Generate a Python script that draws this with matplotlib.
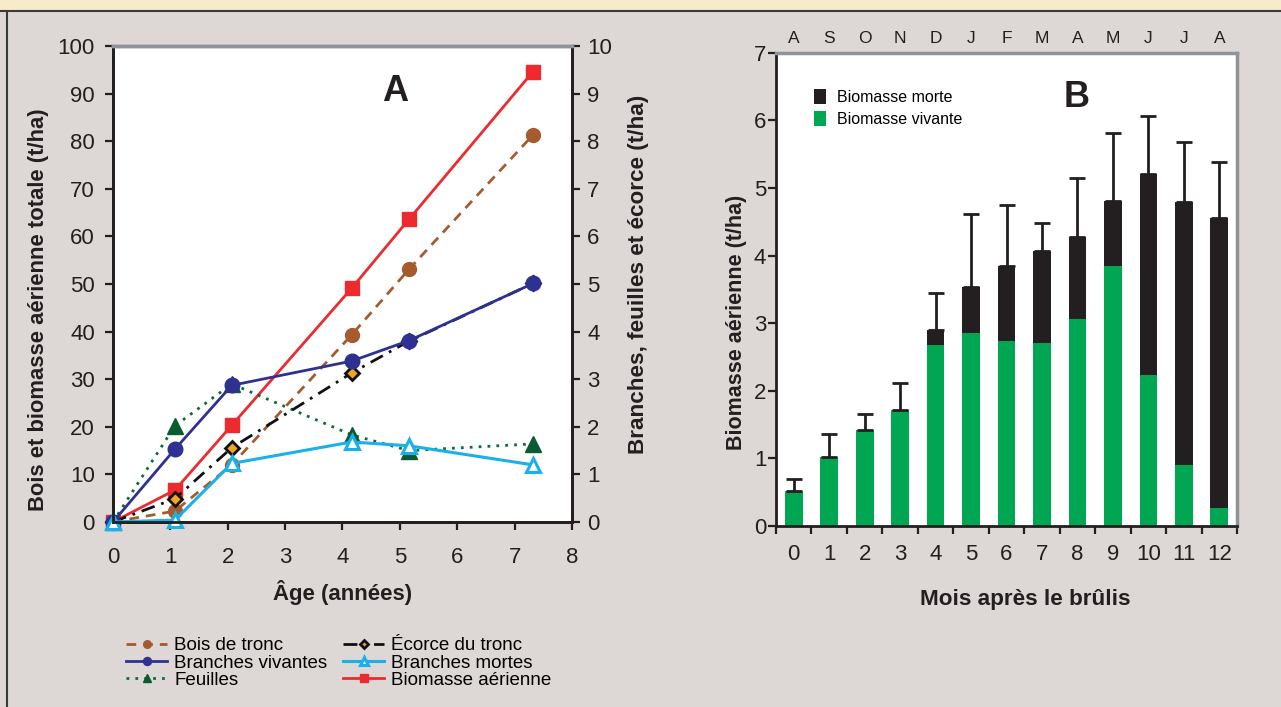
import numpy as np
import matplotlib
matplotlib.use('Agg')
import matplotlib.pyplot as plt
from matplotlib.lines import Line2D
from matplotlib.patches import Rectangle

plt.rcParams['font.family'] = ['Liberation Sans', 'DejaVu Sans']

# ==================== DATA ====================
# panel A : age (years)
age = [0, 1.08, 2.07, 4.16, 5.16, 7.32]
# left axis (t/ha)
bois_tronc = [0, 2.3, 12.0, 39.3, 53.1, 81.3]
biomasse_aer = [0, 6.7, 20.3, 49.1, 63.6, 94.6]
# right axis (t/ha)
branches_viv = [0, 1.53, 2.87, 3.38, 3.81, 5.01]
ecorce = [0, 0.49, 1.56, 3.13, 3.80, 5.01]
feuilles = [0, 2.02, 2.90, 1.83, 1.50, 1.64]
branches_mortes = [0, 0.04, 1.23, 1.68, 1.60, 1.20]

# panel B : months after burning
mois = np.arange(13)
mois_lettres = ['A', 'S', 'O', 'N', 'D', 'J', 'F', 'M', 'A', 'M', 'J', 'J', 'A']
vivante = [0.52, 1.02, 1.42, 1.71, 2.68, 2.85, 2.73, 2.71, 3.06, 3.85, 2.23, 0.90, 0.26]
total = [0.52, 1.02, 1.42, 1.71, 2.90, 3.54, 3.84, 4.07, 4.28, 4.81, 5.21, 4.79, 4.55]
err_haut = [0.69, 1.36, 1.65, 2.12, 3.44, 4.62, 4.75, 4.48, 5.14, 5.81, 6.07, 5.68, 5.38]
# ==============================================

bg = '#ddd8d5'
grey_spine = '#8e9499'
txt = '#231f20'

fig = plt.figure(figsize=(12.81, 7.07), dpi=100, facecolor=bg)
# cream strip + frame lines
fig.patches.append(Rectangle((0, 1 - 10/707), 1, 10/707, transform=fig.transFigure,
                             facecolor='#f6ebcb', edgecolor='none', zorder=0))
fig.add_artist(Line2D([0, 1], [1 - 10.5/707]*2, color='#3a3a3a', lw=1.5))
fig.add_artist(Line2D([7/1281]*2, [0, 1 - 10.5/707], color='#3a3a3a', lw=1.5))


def style_axes(ax, pad=4):
    ax.tick_params(direction='out', length=6, width=1.6, labelsize=16, colors=txt, pad=pad)
    for s in ax.spines.values():
        s.set_linewidth(2)
        s.set_color(txt)


# ==================== PANEL A ====================
axA = fig.add_axes([0.0882, 0.2617, 0.3583, 0.6733])
axA2 = axA.twinx()
for a in (axA, axA2):
    style_axes(a, pad=12)
    a.spines['top'].set_color(grey_spine)
    a.spines['top'].set_linewidth(2.5)
axA.tick_params(axis='y', pad=7)
axA2.tick_params(axis='y', pad=5)

h_bois, = axA.plot(age, bois_tronc, ls=(0, (3.5, 2.5)), color='#a65b2e', lw=2,
                   marker='o', ms=10, mfc='#a65b2e', mec='#a65b2e', label='Bois de tronc')
h_bio, = axA.plot(age, biomasse_aer, ls='-', color='#ed2a2e', lw=2,
                  marker='s', ms=10, mfc='#ed2a2e', mec='#ed2a2e', label='Biomasse aérienne')
h_fe, = axA2.plot(age, feuilles, ls=(0, (1, 2.2)), color='#0b6b3a', lw=2,
                  marker='^', ms=11, mfc='#0b5a32', mec='#0b5a32', label='Feuilles')
h_ec, = axA2.plot(age, ecorce, ls=(0, (5, 2.5, 1, 2.5)), color='#111111', lw=2,
                  marker='D', ms=7.5, mfc='#f2a51f', mec='#111111', mew=2, label='Écorce du tronc')
h_bv, = axA2.plot(age, branches_viv, ls='-', color='#2e3192', lw=2,
                  marker='o', ms=10.5, mfc='#2e3192', mec='#2e3192', label='Branches vivantes')
h_bm, = axA2.plot(age, branches_mortes, ls='-', color='#1ab0ea', lw=2.2,
                  marker='^', ms=10.5, mfc='white', mec='#1ab0ea', mew=2.2, label='Branches mortes')

axA.set_xlim(0, 8)
axA.set_ylim(0, 100)
axA2.set_ylim(0, 10)
axA.set_xticks(range(9))
axA.set_yticks(range(0, 101, 10))
axA2.set_yticks(range(11))
axA.set_xlabel('Âge (années)', fontsize=16, fontweight='bold', color=txt, labelpad=9)
axA.set_ylabel('Bois et biomasse aérienne totale (t/ha)', fontsize=15.8, fontweight='bold',
               color=txt)
axA.yaxis.set_label_coords(-0.14, 0.445)
axA2.set_ylabel('Branches, feuilles et écorce (t/ha)', fontsize=16.2, fontweight='bold',
                color=txt)
axA2.yaxis.set_label_coords(1.123, 0.52)
axA.text(0.615, 0.905, 'A', transform=axA.transAxes, fontsize=26, fontweight='bold',
         color=txt, ha='center', va='center')
for h in (h_bois, h_bio, h_fe, h_ec, h_bv, h_bm):
    h.set_clip_on(False)

fig.legend([h_bois, h_bv, h_fe, h_ec, h_bm, h_bio],
           [h.get_label() for h in (h_bois, h_bv, h_fe, h_ec, h_bm, h_bio)],
           ncol=2, loc='upper left', bbox_to_anchor=(117/1281, 1 - 628/707),
           frameon=False, fontsize=13.5, handlelength=2.15, handletextpad=0.4,
           labelspacing=0.0, columnspacing=0.86, markerscale=0.55, borderpad=0)

# ==================== PANEL B ====================
axB = fig.add_axes([0.6058, 0.256, 0.3599, 0.6695])
style_axes(axB, pad=1)
for side in ('top', 'right'):
    axB.spines[side].set_color(grey_spine)
    axB.spines[side].set_linewidth(2.5)

morte = np.array(total) - np.array(vivante)
axB.bar(mois, vivante, width=0.5, color='#00a651', zorder=2, label='Biomasse vivante')
axB.bar(mois, morte, bottom=vivante, width=0.5, color='#231f20', zorder=2,
        label='Biomasse morte')
yerr = np.array(err_haut) - np.array(total)
axB.errorbar(mois, total, yerr=[np.zeros(13), yerr], fmt='none', ecolor='#231f20',
             elinewidth=2, capsize=5.5, capthick=2, zorder=3)

axB.set_xlim(-0.5, 12.5)
axB.set_ylim(0, 7)
axB.set_yticks(range(8))
axB.set_xticks(np.arange(-0.5, 13, 1))
axB.set_xticklabels([])
axB.set_xticks(mois, minor=True)
axB.set_xticklabels([str(m) for m in mois], minor=True)
axB.tick_params(axis='x', which='minor', length=0, labelsize=16, colors=txt, pad=13)
axB.set_xlabel('Mois après le brûlis', fontsize=16.2, fontweight='bold', color=txt)
axB.xaxis.set_label_coords(0.54, -0.133)
axB.set_ylabel('Biomasse aérienne (t/ha)', fontsize=15.5, fontweight='bold', color=txt)
axB.yaxis.set_label_coords(-0.064, 0.43)

axB_top = axB.secondary_xaxis('top')
axB_top.set_xticks(mois)
axB_top.set_xticklabels(mois_lettres)
axB_top.tick_params(length=0, labelsize=12.5, colors=txt, pad=5)
axB_top.spines['top'].set_visible(False)

axB.text(0.653, 0.905, 'B', transform=axB.transAxes, fontsize=26, fontweight='bold',
         color=txt, ha='center', va='center')
hb, lb = axB.get_legend_handles_labels()
axB.legend(hb[::-1], lb[::-1], loc='upper left', bbox_to_anchor=(0.064, 0.94), frameon=False,
           fontsize=11.5, handlelength=0.75, handleheight=1.1, handletextpad=0.7,
           labelspacing=0.35, borderpad=0)

plt.savefig('out.png', dpi=100, facecolor=bg)
